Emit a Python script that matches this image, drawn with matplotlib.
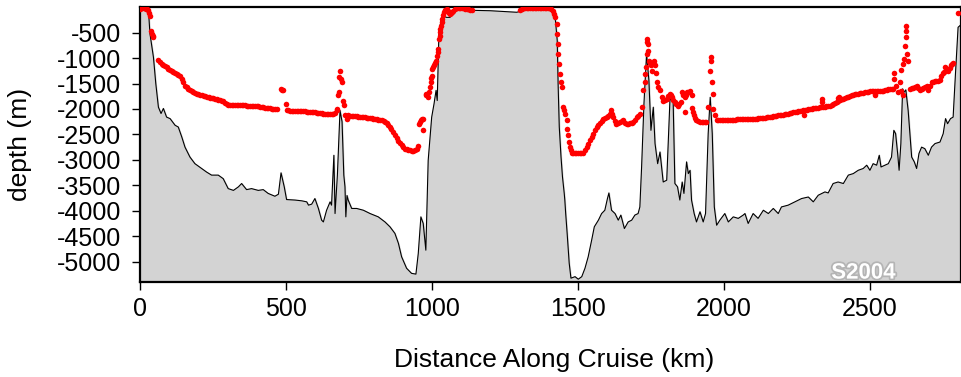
import matplotlib
matplotlib.use("Agg")
import matplotlib.pyplot as plt
import matplotlib.patheffects as pe

plt.rcParams['font.family'] = ['Liberation Sans', 'DejaVu Sans']
plt.rcParams['axes.unicode_minus'] = False

# bottom depth along the cruise track
dist_km = [0, 29, 34, 46, 54, 63, 72, 80, 91, 103, 120, 131, 143, 154, 171, 188, 211, 228, 245, 268,
           285, 302, 320, 337, 348, 365, 382, 405, 422, 439, 462, 474, 483, 494, 502, 531, 554, 571, 577, 588,
           599, 611, 622, 628, 639, 651, 656, 664, 668, 676, 685, 692, 698, 702, 705, 709, 713, 725, 742, 765,
           788, 816, 839, 856, 873, 885, 896, 913, 930, 945, 953, 962, 970, 979, 987, 999, 1007, 1014, 1018, 1024,
           1035, 1050, 1062, 1073, 1085, 1200, 1290, 1320, 1404, 1414, 1423, 1429, 1432, 1436, 1442, 1447, 1453, 1455, 1458, 1463,
           1470, 1476, 1490, 1501, 1513, 1524, 1535, 1547, 1556, 1570, 1581, 1592, 1601, 1606, 1615, 1627, 1638, 1647, 1659, 1672,
           1684, 1695, 1706, 1712, 1718, 1726, 1735, 1743, 1750, 1758, 1764, 1773, 1781, 1792, 1804, 1815, 1821, 1826, 1832, 1841,
           1849, 1857, 1863, 1872, 1878, 1884, 1889, 1898, 1906, 1918, 1929, 1937, 1946, 1953, 1960, 1967, 1975, 1986, 2003, 2015,
           2032, 2049, 2066, 2072, 2083, 2100, 2117, 2135, 2152, 2169, 2186, 2197, 2220, 2243, 2266, 2289, 2306, 2323, 2346, 2357,
           2374, 2391, 2409, 2426, 2443, 2460, 2477, 2489, 2500, 2511, 2523, 2532, 2538, 2551, 2563, 2574, 2582, 2588, 2595, 2600,
           2606, 2612, 2617, 2623, 2631, 2643, 2652, 2660, 2668, 2677, 2688, 2700, 2711, 2723, 2740, 2751, 2759, 2766, 2776, 2785,
           2793, 2802, 2812]
bottom_m = [-35, -70, -520, -985, -1500, -1965, -2090, -1990, -2160, -2190, -2320, -2355, -2550, -2750, -2945, -3075, -3170, -3240, -3300, -3300,
            -3370, -3565, -3600, -3530, -3465, -3585, -3565, -3600, -3585, -3660, -3715, -3675, -3255, -3530, -3780, -3790, -3805, -3825, -3890, -3870,
            -3760, -3955, -4185, -4220, -3990, -3825, -3890, -2910, -4055, -3300, -2030, -2250, -3300, -3530, -4120, -3700, -3790, -3955, -3955, -3990,
            -4055, -4120, -4220, -4315, -4445, -4640, -4905, -5130, -5230, -5245, -4840, -4120, -4250, -4775, -3010, -2160, -1900, -1635, -1835, -460,
            -170, -200, -200, -100, -55, -70, -100, -60, -20, -70, -265, -655, -1505, -2355, -2945, -3335, -3660, -3790, -4055, -4445,
            -5030, -5325, -5295, -5345, -5295, -5130, -4905, -4575, -4315, -4185, -4055, -3990, -3760, -3650, -3990, -4055, -4185, -4085, -4350, -4220,
            -4185, -4085, -4055, -3925, -3140, -1900, -920, -1440, -2420, -1965, -2680, -3075, -2845, -3435, -3400, -1835, -1770, -1835, -3465, -3530,
            -3790, -3435, -3660, -3040, -3270, -3205, -3790, -4055, -4220, -4020, -4220, -4055, -2485, -1770, -2485, -3925, -4285, -4185, -4055, -4220,
            -4120, -4150, -4085, -4055, -4250, -4055, -4150, -3990, -4055, -3955, -4055, -3925, -3890, -3825, -3760, -3730, -3825, -3695, -3630, -3650,
            -3465, -3435, -3465, -3300, -3270, -3205, -3170, -3105, -3205, -3075, -3105, -2910, -3140, -3105, -3075, -2945, -2420, -2485, -2875, -3205,
            -2680, -1605, -1670, -1625, -2030, -2945, -3040, -3170, -2875, -2750, -2780, -2910, -2750, -2680, -2650, -2485, -2190, -2290, -2190, -2160,
            -1310, -395, -345]

# red points (depth of the measurements)
dot_km = [0, 4, 8, 12, 16, 20, 24, 28, 32, 34, 37, 40, 43, 46,
          63, 68, 74, 80, 86, 92, 97, 103, 108, 114, 120, 125, 131, 137, 143, 148, 154, 160, 165, 171,
          177, 183, 189, 195, 200, 206, 212, 218, 223, 229, 235, 240, 245, 251, 257, 262, 268, 274, 280, 285,
          291, 297, 303, 308, 314, 320, 326, 331, 337, 343, 349, 354, 360, 366, 371, 377, 382, 388, 394, 400,
          405, 411, 417, 422, 428, 434, 440, 445, 451, 457, 463, 468, 482, 486, 489, 499,
          502, 508, 514, 519, 525, 531, 536, 542, 548, 553, 559, 565, 571, 576, 582, 588, 594, 599, 605, 611,
          617, 622, 628, 634, 640, 645, 651, 656, 662, 668, 673, 673,
          677, 681, 681, 685, 688, 693, 696, 700, 702, 708,
          713, 719, 725, 730, 736, 742, 748, 753, 759, 765, 771, 776, 782, 788, 794, 799, 805, 811, 816, 822,
          828, 834, 839, 845, 850, 856, 861, 867, 873, 879, 884, 890, 896, 902, 907, 913, 919, 924, 930, 936,
          941, 947, 953,
          955, 959, 962, 966, 970, 970, 978, 981, 985, 990, 993, 995, 997, 999, 1001, 1004, 1007, 1010, 1013, 1016,
          1019, 1022, 1025, 1026, 1027, 1029, 1031, 1033, 1035, 1038, 1042, 1046, 1050, 1054, 1058, 1062, 1066, 1069, 1073, 1079,
          1085, 1091, 1096, 1102, 1108, 1113, 1119, 1125, 1130, 1136,
          1301, 1307, 1312, 1318, 1324, 1330, 1335, 1341, 1347, 1352, 1358, 1364, 1370, 1375, 1381, 1387, 1392, 1398, 1404, 1409,
          1415, 1419, 1423, 1427, 1429, 1430, 1432, 1435, 1438, 1442, 1444, 1450, 1453, 1456, 1461, 1463, 1467, 1470, 1473, 1476,
          1480, 1484, 1490, 1495, 1501, 1507, 1512, 1518, 1524, 1530, 1536, 1541, 1547, 1552, 1558, 1564, 1570, 1575, 1581, 1587,
          1593, 1598, 1604, 1610, 1613, 1617, 1621, 1627, 1632, 1638, 1644, 1650, 1655, 1661, 1667, 1673, 1678, 1684, 1690, 1695,
          1701, 1707, 1712, 1718, 1724, 1728, 1730, 1732, 1735, 1735, 1737, 1739, 1741, 1744, 1747, 1750, 1755, 1762, 1764, 1767,
          1770, 1775, 1781, 1787, 1792, 1798, 1804, 1810, 1815, 1819, 1823, 1827, 1832, 1837, 1841, 1847, 1853, 1855, 1860, 1866,
          1868, 1871, 1875, 1880, 1884, 1889, 1889, 1894, 1898, 1902, 1906, 1912, 1918, 1924, 1930, 1935, 1940, 1944, 1952, 1956,
          1956, 1958, 1961, 1963, 1969, 1975, 1981, 1986, 1992, 1998, 2003, 2009, 2015, 2021, 2026, 2032, 2038, 2044, 2049, 2055,
          2061, 2066, 2072, 2078, 2084, 2089, 2095, 2100, 2106, 2112, 2117, 2123, 2129, 2134, 2140, 2146, 2151, 2157, 2163, 2168,
          2174, 2180, 2186, 2191, 2197, 2203, 2209, 2214, 2220, 2226, 2231, 2237, 2243, 2249, 2254, 2260, 2266, 2272, 2274, 2277,
          2283, 2289, 2294, 2300, 2306, 2311, 2317, 2323, 2328, 2334, 2337, 2337, 2340, 2346, 2351, 2357, 2363, 2369, 2374, 2380,
          2386, 2389, 2391, 2393, 2397, 2403, 2409, 2414, 2420, 2426, 2431, 2437, 2443, 2449, 2454, 2460, 2466, 2471, 2477, 2483,
          2489, 2494, 2500, 2506, 2511, 2517, 2517, 2523, 2529, 2534, 2540, 2546, 2551, 2557, 2563, 2569, 2574, 2578,
          2582, 2582, 2591, 2597, 2603, 2608, 2608, 2614, 2614, 2617, 2620, 2622, 2623, 2623, 2628, 2631, 2637, 2643, 2648, 2654,
          2660, 2666, 2671, 2677, 2683, 2688, 2694, 2700, 2705, 2711, 2717, 2723, 2728, 2734, 2740, 2745, 2751, 2754, 2757, 2763,
          2768, 2773, 2777, 2781, 2785, 2802]
dot_m = [-30, -20, -20, -20, -25, -30, -40, -60, -120, -170, -460, -525, -560, -580,
         -1035, -1080, -1115, -1140, -1160, -1185, -1210, -1240, -1260, -1280, -1295, -1310, -1325, -1360, -1410, -1470, -1540, -1575, -1605, -1630,
         -1650, -1670, -1685, -1700, -1715, -1725, -1735, -1745, -1755, -1762, -1770, -1775, -1780, -1790, -1800, -1808, -1815, -1825, -1838, -1850,
         -1880, -1910, -1920, -1928, -1930, -1925, -1920, -1918, -1915, -1920, -1925, -1928, -1930, -1935, -1940, -1942, -1945, -1947, -1948, -1950,
         -1950, -1956, -1962, -1968, -1975, -1980, -1986, -1990, -1995, -2000, -2005, -2010, -1605, -1620, -1635, -1900,
         -2015, -2025, -2035, -2040, -2040, -2040, -2040, -2040, -2042, -2045, -2048, -2050, -2052, -2055, -2058, -2060, -2063, -2067, -2070, -2075,
         -2080, -2085, -2090, -2095, -2097, -2100, -2103, -2105, -2095, -2080, -1995, -2030,
         -1735, -1670, -1375, -1245, -1410, -1475, -1835, -1930, -2125, -2190,
         -2125, -2130, -2133, -2136, -2140, -2145, -2150, -2155, -2160, -2163, -2165, -2168, -2170, -2178, -2185, -2192, -2200, -2206, -2212, -2218,
         -2225, -2235, -2250, -2275, -2310, -2355, -2400, -2455, -2510, -2565, -2620, -2670, -2710, -2750, -2780, -2795, -2800, -2810, -2820, -2825,
         -2810, -2780, -2730,
         -2305, -2260, -2225, -2200, -2190, -2405, -1735, -1700, -1770, -1670, -1560, -1475, -1400, -1345, -1210, -1170, -1145, -1100, -1050, -950,
         -880, -820, -625, -560, -495, -430, -365, -300, -230, -160, -100, -60, -35, -80, -120, -135, -110, -90, -70, -30,
         -15, -15, -15, -15, -20, -30, -35, -45, -50, -55,
         -55, -40, -25, -15, -15, -15, -15, -15, -15, -15, -15, -15, -15, -15, -15, -15, -15, -15, -25, -40,
         -70, -130, -200, -330, -525, -720, -920, -1115, -1310, -1475, -1570, -1965, -2030, -2095, -2225, -2390, -2520, -2650, -2740, -2815,
         -2860, -2875, -2875, -2875, -2875, -2875, -2875, -2875, -2810, -2750, -2680, -2605, -2545, -2485, -2420, -2355, -2310, -2270, -2230, -2190,
         -2175, -2160, -2130, -2095, -2030, -2100, -2160, -2240, -2305, -2280, -2255, -2240, -2225, -2270, -2305, -2295, -2285, -2275, -2250, -2225,
         -2160, -2130, -2095, -1965, -1635, -1475, -1310, -1180, -920, -625, -680, -720, -855, -1050, -1100, -1145, -1245, -1050, -1145, -1300,
         -1475, -1570, -1635, -1770, -1835, -1820, -1800, -1750, -1700, -1720, -1770, -1820, -1865, -1910, -1950, -1900, -1865, -1670, -1720, -1770,
         -2060, -1720, -1670, -1660, -1650, -1735, -1975, -2060, -2125, -2180, -2225, -2240, -2255, -2255, -2255, -2255, -2250, -1965, -1245, -985,
         -1050, -1475, -1700, -1995, -2125, -2225, -2215, -2212, -2210, -2210, -2210, -2210, -2210, -2210, -2210, -2210, -2210, -2205, -2200, -2200,
         -2200, -2200, -2200, -2200, -2200, -2200, -2200, -2200, -2198, -2192, -2186, -2182, -2178, -2174, -2170, -2165, -2160, -2155, -2150, -2145,
         -2140, -2135, -2128, -2120, -2114, -2110, -2105, -2098, -2090, -2082, -2075, -2068, -2060, -2055, -2050, -2040, -2035, -2030, -2125, -2025,
         -2018, -2010, -2002, -1995, -1988, -1982, -1976, -1972, -1968, -1965, -1800, -1865, -1960, -1955, -1948, -1942, -1936, -1930, -1910, -1890,
         -1860, -1835, -1790, -1770, -1820, -1810, -1795, -1785, -1770, -1757, -1745, -1735, -1725, -1715, -1705, -1697, -1690, -1683, -1677, -1670,
         -1665, -1660, -1655, -1652, -1650, -1735, -1648, -1648, -1648, -1650, -1650, -1640, -1630, -1622, -1615, -1610, -1605, -1600,
         -1295, -1410, -1540, -1670, -1475, -1230, -1650, -1115, -1735, -1015, -755, -460, -590, -365, -920, -1050, -1605, -1595, -1585, -1560,
         -1540, -1585, -1625, -1605, -1585, -1560, -1540, -1625, -1550, -1475, -1465, -1460, -1455, -1448, -1440, -1345, -1300, -1280, -1180, -1220,
         -1245, -1190, -1145, -1120, -1100, -120]

y_ticks = [-500, -1000, -1500, -2000, -2500, -3000, -3500, -4000, -4500, -5000]
x_ticks = [0, 500, 1000, 1500, 2000, 2500]

fig = plt.figure(figsize=(9.61, 3.77), dpi=100)
ax = fig.add_axes([0.1457, 0.252, 0.8543, 0.729])

ax.fill_between(dist_km, bottom_m, -6000, color='lightgray', zorder=1)
ax.plot(dist_km, bottom_m, color='black', linewidth=0.8, zorder=2)
ax.plot(dot_km, dot_m, 'o', color='red', markersize=4, markeredgewidth=0, zorder=3)

ax.set_xlim(0, 2812)
ax.set_ylim(-5400, 0)
ax.set_xticks(x_ticks)
ax.set_yticks(y_ticks)
ax.tick_params(direction='out', length=5.8, width=1, labelsize=18)
ax.tick_params(axis='x', pad=5)
ax.tick_params(axis='y', pad=8)
for s in ax.spines.values():
    s.set_linewidth(1.6)

ax.set_xlabel('Distance Along Cruise (km)', fontsize=19, va='baseline')
ax.xaxis.set_label_coords(0.505, -0.309)
ax.set_ylabel('depth (m)', fontsize=19, va='center')
ax.yaxis.set_label_coords(-0.1456, 0.5)

# cruise tag, drawn over the bottom frame line
ax.text(2478, -5225, 'S2004', color='white', fontsize=16, fontweight='bold',
        ha='center', va='center', zorder=5, clip_on=False,
        path_effects=[pe.withStroke(linewidth=2.5, foreground='#b4b4b4')])

plt.savefig('out.png', dpi=100)
